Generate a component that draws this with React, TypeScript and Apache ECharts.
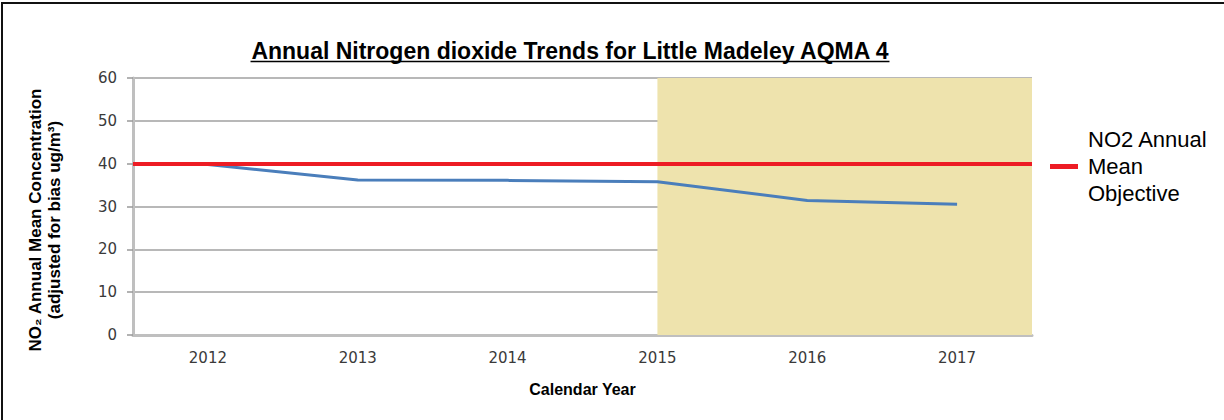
import { useEffect, useRef } from "react";
import * as echarts from "echarts";

// Annual NO2 trend for Little Madeley AQMA 4
const chartTitle = "Annual Nitrogen dioxide Trends for Little Madeley AQMA 4";
const years = ["2012", "2013", "2014", "2015", "2016", "2017"];
const no2Annual = [39.8, 36.2, 36.1, 35.8, 31.4, 30.5];
const objectiveValue = 40;
const objectiveName = "NO2 Annual Mean Objective";
const objectiveLegendLines = ["NO2 Annual", "Mean", "Objective"];
const shadedYears = ["2015", "2016", "2017"];
const yMin = 0;
const yMax = 60;
const yStep = 10;
const yAxisTitle = ["NO₂ Annual Mean Concentration", "(adjusted for bias ug/m³)"];
const xAxisTitle = "Calendar Year";

const SANS = '"Liberation Sans", Arial, sans-serif';
const TICK_FONT = '"DejaVu Sans", Verdana, sans-serif';

export default function App() {
  const ref = useRef<HTMLDivElement>(null);

  useEffect(() => {
    if (!ref.current) return;
    const chart = echarts.init(ref.current, undefined, { renderer: "svg" });

    const titleFont = `bold 23px ${SANS}`;
    const ctx = document.createElement("canvas").getContext("2d");
    let titleWidth = 640;
    if (ctx) {
      ctx.font = titleFont;
      titleWidth = ctx.measureText(chartTitle).width;
    }
    const titleX = 570;

    const shadeStart = years.indexOf(shadedYears[0]);

    chart.setOption({
      animation: false,
      backgroundColor: "#ffffff",
      grid: { left: 133, right: 192, top: 78, bottom: 85, containLabel: false },
      legend: {
        data: [{ name: objectiveName, icon: "rect" }],
        left: 1050,
        top: 126,
        padding: 0,
        itemWidth: 28,
        itemHeight: 5,
        formatter: () => objectiveLegendLines.join("\n"),
        textStyle: {
          fontFamily: SANS,
          fontSize: 22,
          lineHeight: 27,
          color: "#000",
          padding: [0, 0, 0, 5],
        },
      },
      xAxis: [
        {
          type: "category",
          data: years,
          boundaryGap: true,
          axisLine: { show: true, lineStyle: { color: "#bfbfbf", width: 3 } },
          axisTick: { show: false },
          splitLine: { show: false },
          axisLabel: {
            margin: 15,
            fontFamily: TICK_FONT,
            fontSize: 15,
            color: "#3a3a3a",
          },
          name: xAxisTitle,
          nameLocation: "middle",
          nameGap: 46,
          nameTextStyle: {
            fontFamily: SANS,
            fontWeight: "bold",
            fontSize: 16,
            color: "#000",
          },
        },
        {
          type: "value",
          min: -0.5,
          max: years.length - 0.5,
          show: false,
        },
      ],
      yAxis: {
        type: "value",
        min: yMin,
        max: yMax,
        interval: yStep,
        axisLine: { show: true, onZero: false, lineStyle: { color: "#bfbfbf", width: 3 } },
        axisTick: { show: true, length: 6, lineStyle: { color: "#999", width: 1.5 } },
        splitLine: { show: true, lineStyle: { color: "#a0a0a0", width: 1.5 } },
        axisLabel: {
          margin: 16,
          fontFamily: TICK_FONT,
          fontSize: 15,
          color: "#3a3a3a",
        },
      },
      graphic: [
        {
          type: "rect",
          silent: true,
          shape: { x: 2, y: 3, width: 1400, height: 600 },
          style: { fill: "none", stroke: "#111", lineWidth: 2 },
        },
        {
          type: "text",
          x: titleX,
          y: 51,
          style: {
            text: chartTitle,
            font: titleFont,
            fill: "#000",
            align: "center",
            verticalAlign: "middle",
          },
        },
        {
          type: "line",
          silent: true,
          shape: {
            x1: titleX - titleWidth / 2,
            y1: 61.5,
            x2: titleX + titleWidth / 2,
            y2: 61.5,
          },
          style: { stroke: "#000", lineWidth: 1.5 },
        },
        {
          type: "text",
          x: 45,
          y: 220,
          rotation: Math.PI / 2,
          style: {
            text: yAxisTitle.join("\n"),
            font: `bold 17px ${SANS}`,
            lineHeight: 19,
            fill: "#000",
            align: "center",
            verticalAlign: "middle",
          },
        },
      ],
      series: [
        {
          // shaded projection band, kept under the grid lines
          type: "line",
          name: "shade",
          xAxisIndex: 1,
          z: -1,
          data: [],
          silent: true,
          markArea: {
            silent: true,
            itemStyle: { color: "#eee3ad" },
            data: [[{ xAxis: shadeStart }, { xAxis: years.length - 0.5 }]],
          },
        },
        {
          type: "line",
          name: "NO2",
          data: no2Annual,
          showSymbol: false,
          symbol: "none",
          lineStyle: { color: "#4a7ebb", width: 3 },
          itemStyle: { color: "#4a7ebb" },
          z: 3,
        },
        {
          type: "line",
          name: objectiveName,
          data: [],
          itemStyle: { color: "#ed1c24" },
          lineStyle: { color: "#ed1c24", width: 4 },
          z: 4,
          markLine: {
            silent: true,
            symbol: "none",
            label: { show: false },
            lineStyle: { color: "#ed1c24", width: 4, type: "solid" },
            data: [{ yAxis: objectiveValue }],
          },
        },
      ],
    });

    return () => chart.dispose();
  }, []);

  return (
    <div
      ref={ref}
      style={{ position: "fixed", left: 0, top: 0, width: 1224, height: 420, background: "#fff" }}
    />
  );
}
